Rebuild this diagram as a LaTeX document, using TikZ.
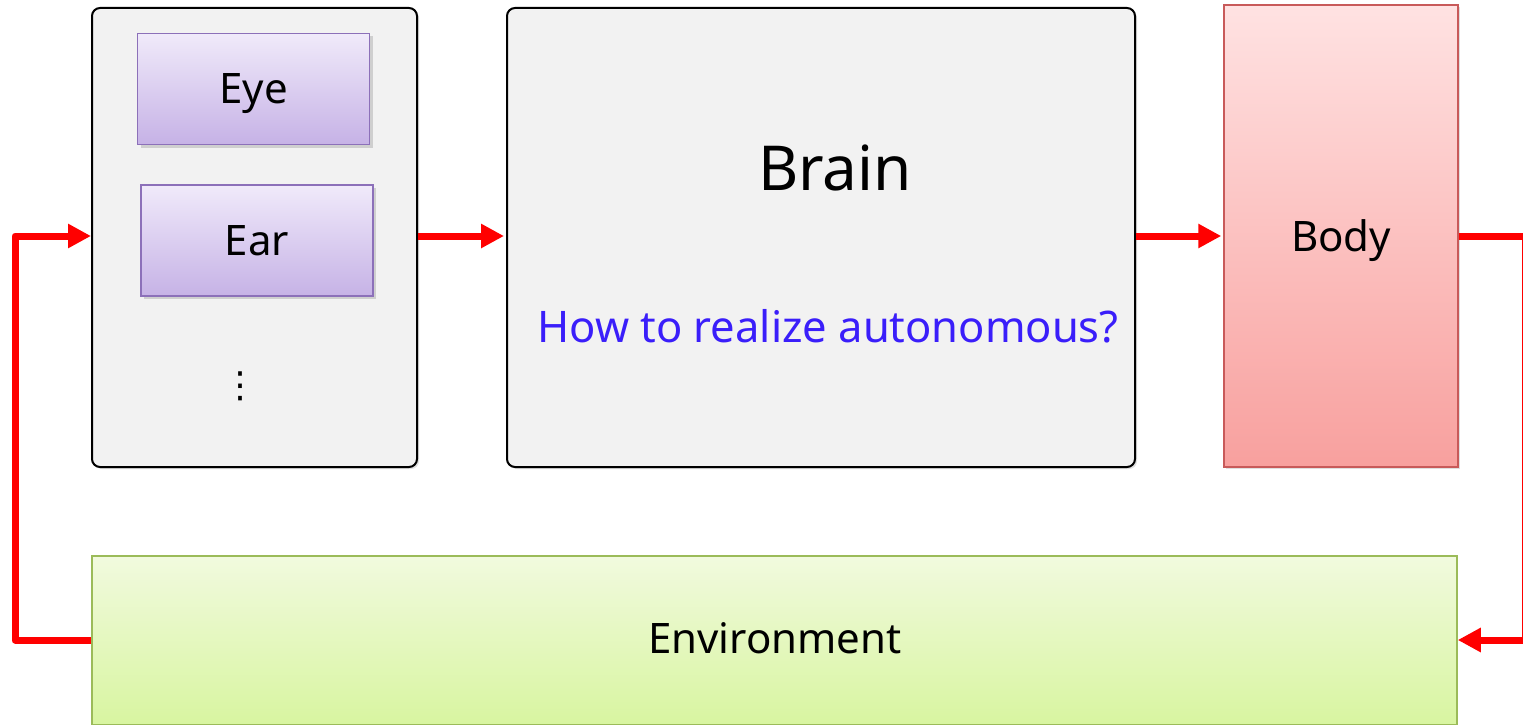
\documentclass[tikz,border=0pt]{standalone}
\usepackage{fontspec}
\setmainfont{Noto Sans}
\newfontfamily\dejavu{DejaVu Sans}
\usetikzlibrary{arrows.meta,shadows}
\definecolor{panelfill}{RGB}{242,242,242}
\definecolor{eartop}{RGB}{240,234,250}
\definecolor{earbot}{RGB}{198,178,230}
\definecolor{earline}{RGB}{140,112,185}
\definecolor{bodytop}{RGB}{255,226,226}
\definecolor{bodybot}{RGB}{248,160,158}
\definecolor{bodyline}{RGB}{200,90,90}
\definecolor{envtop}{RGB}{241,250,222}
\definecolor{envbot}{RGB}{216,245,160}
\definecolor{envline}{RGB}{155,187,89}
\definecolor{qblue}{RGB}{58,30,250}
\definecolor{arrred}{RGB}{255,0,0}
\tikzset{
  panel/.style={draw=black, line width=2pt, fill=panelfill, rounded corners=8pt,
    drop shadow={opacity=0.25, shadow xshift=2pt, shadow yshift=-2pt}, inner sep=0pt},
  sense/.style={draw=earline, line width=1.5pt, top color=eartop, bottom color=earbot,
    drop shadow={opacity=0.3, shadow xshift=3pt, shadow yshift=-3pt},
    minimum width=232pt, minimum height=111pt, inner sep=0pt, text depth=0pt,
    font=\fontsize{42}{50}\selectfont},
  bodybox/.style={draw=bodyline, line width=1.5pt, top color=bodytop, bottom color=bodybot,
    drop shadow={opacity=0.25, shadow xshift=2pt, shadow yshift=-2pt},
    minimum width=234pt, minimum height=462pt, inner sep=0pt, text depth=0pt,
    font=\fontsize{42}{50}\selectfont},
  envbox/.style={draw=envline, line width=1.5pt, top color=envtop, bottom color=envbot,
    minimum width=1365pt, minimum height=169pt, inner sep=0pt,
    font=\fontsize{42}{50}\selectfont},
  flow/.style={draw=arrred, line width=7pt, line join=round,
    -{Triangle[length=23pt, width=23pt]}},
}
\begin{document}
\begin{tikzpicture}[x=1pt,y=-1pt]
\useasboundingbox (0,0) rectangle (1523,725);
% panels
\node[panel, minimum width=325pt, minimum height=459pt] (sensor) at (254.5,237.5) {};
\node[panel, minimum width=628pt, minimum height=459pt] (brain) at (821,237.5) {};
\node[bodybox] (body) at (1341,236) {Body};
\node[envbox] (env) at (774.5,640.5) {};
\node[font=\fontsize{42}{50}\selectfont] (envlabel) at (775,638) {Environment};
% sensors
\node[sense] (eye) at (253.5,89) {Eye};
\node[sense] (ear) at (257,240.5) {Ear};
\node[font=\dejavu\fontsize{36}{40}\selectfont, inner sep=0pt] (dots) at (240,386) {⋮};
% brain texts
\node[font=\fontsize{62}{72}\selectfont] (braintitle) at (835,168) {Brain};
\node[font=\fontsize{43.5}{50}\selectfont, text=qblue] (question) at (828,326) {How to realize autonomous?};
% connectors
\coordinate (rtop) at (1525,236);
\coordinate (rbot) at (1525,640);
\coordinate (lbot) at (15,640);
\coordinate (ltop) at (15,236);
\draw[flow] (sensor.east |- 0,236) -- ([xshift=-2pt]brain.west |- 0,236);
\draw[flow] (brain.east |- 0,236) -- ([xshift=-2pt]body.west |- 0,236);
\draw[flow, -] (body.east |- 0,236) -- (rtop) -- (rbot);
\draw[flow] (rbot) -- (env.east |- rbot);
\draw[flow] (env.west |- lbot) -- (lbot) -- (ltop) -- (sensor.west |- ltop);
\end{tikzpicture}
\end{document}
